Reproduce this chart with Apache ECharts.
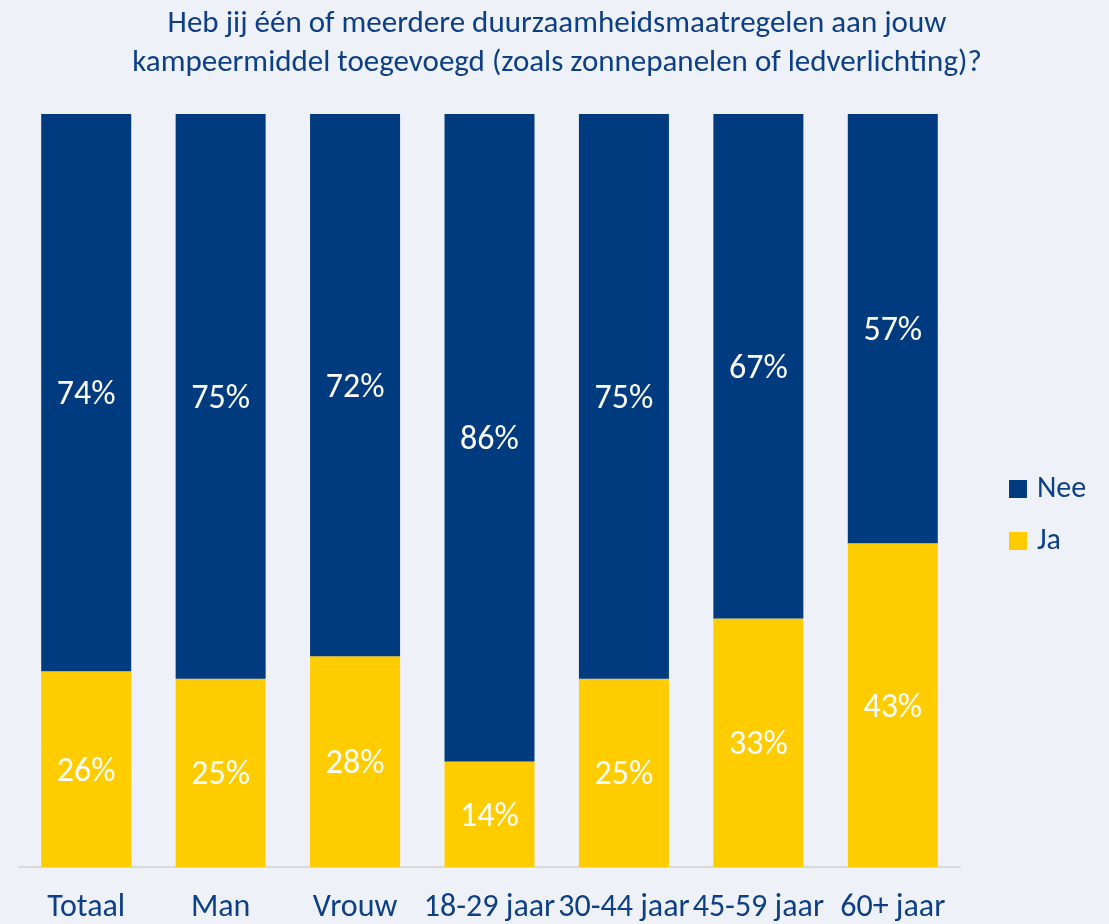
<!DOCTYPE html>
<html>
<head>
<meta charset="utf-8">
<script src="https://cdn.jsdelivr.net/npm/echarts@6/dist/echarts.min.js"></script>
<style>
html,body{margin:0;padding:0;background:#eef2f8;}
#chart{width:1109px;height:924px;}
</style>
</head>
<body>
<div id="chart"></div>
<script>
const categories = ['Totaal','Man','Vrouw','18-29 jaar','30-44 jaar','45-59 jaar','60+ jaar'];
const jaValues = [26,25,28,14,25,33,43];
const neeValues = [74,75,72,86,75,67,57];
const titleText = 'Heb jij één of meerdere duurzaamheidsmaatregelen aan jouw\nkampeermiddel toegevoegd (zoals zonnepanelen of ledverlichting)?';

const FONT = "Carlito, 'Liberation Sans Narrow', 'Open Sans', sans-serif";
const chart = echarts.init(document.getElementById('chart'));
chart.setOption({
  backgroundColor: '#eef2f8',
  animation: false,
  textStyle: {fontFamily: FONT},
  title: {
    text: titleText,
    left: 552, top: 0, textAlign: 'center',
    textStyle: {color: '#0d3f86', fontSize: 31, fontWeight: 'normal', lineHeight: 39, fontFamily: FONT}
  },
  legend: {
    orient: 'vertical', left: 1004, top: 469,
    itemWidth: 18, itemHeight: 18, itemGap: 22,
    icon: 'rect',
    data: ['Nee','Ja'],
    textStyle: {color: '#0d3f86', fontSize: 30, fontFamily: FONT, padding: [0,0,0,5]}
  },
  grid: {left: 19, right: 149, top: 114, bottom: 57, containLabel: false},
  xAxis: {
    type: 'category', data: categories,
    axisLine: {lineStyle: {color: '#d9d9d9', width: 2}},
    axisTick: {show: false},
    axisLabel: {color: '#0d3f86', fontSize: 32, margin: 25, interval: 0, fontFamily: FONT}
  },
  yAxis: {type: 'value', min: 0, max: 100, show: false, splitLine: {show: false}},
  series: [
    {name: 'Ja', type: 'bar', stack: 't', data: jaValues, barWidth: 90,
     itemStyle: {color: '#ffcc00'},
     label: {show: true, position: 'inside', offset: [0, 3], formatter: '{c}%', color: '#fff', fontSize: 34, fontFamily: FONT}},
    {name: 'Nee', type: 'bar', stack: 't', data: neeValues, barWidth: 90,
     itemStyle: {color: '#003b7f'},
     label: {show: true, position: 'inside', offset: [0, 3], formatter: '{c}%', color: '#fff', fontSize: 34, fontFamily: FONT}}
  ]
});
</script>
</body>
</html>
